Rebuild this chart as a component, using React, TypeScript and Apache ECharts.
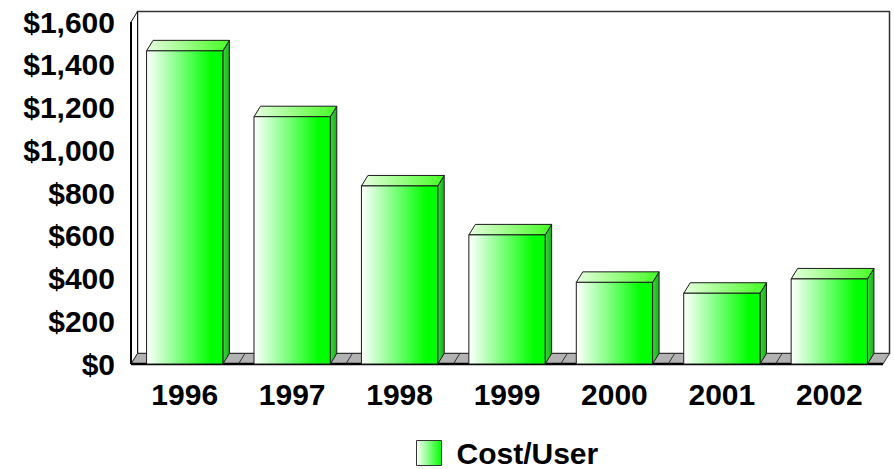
import React, { useEffect, useRef } from 'react';
import * as echarts from 'echarts';

const categories = ['1996', '1997', '1998', '1999', '2000', '2001', '2002'];
const costPerUser = [1465, 1157, 833, 604, 382, 331, 398];
const seriesName = 'Cost/User';
const yMin = 0;
const yMax = 1600;
const yStep = 200;

const DX = 6.5;
const DY = -10.5;
const FONT = "'Liberation Sans', Arial, Helvetica, sans-serif";

const lin = (stops: [number, string][]) => ({
  type: 'linear', x: 0, y: 0, x2: 1, y2: 0,
  colorStops: stops.map(([offset, color]) => ({ offset, color })),
});

export default function App() {
  const ref = useRef<HTMLDivElement>(null);
  useEffect(() => {
    const chart = echarts.init(ref.current!, null, { renderer: 'svg' });
    const frontGrad = lin([[0, '#ffffff'], [0.85, '#00ff00'], [1, '#00ff00']]);
    const topGrad = lin([[0, '#e8ffe0'], [1, '#44ff22']]);
    const sideGrad = lin([[0, '#33dd33'], [1, '#22aa22']]);
    const legendGrad = lin([[0, '#ffffff'], [1, '#00ff00']]);

    chart.setOption({
      animation: false,
      grid: { left: 131, right: 11, top: 22, bottom: 105, containLabel: false },
      xAxis: {
        type: 'category',
        data: categories,
        axisLine: { show: false },
        axisTick: { show: false },
        splitLine: { show: false },
        axisLabel: {
          fontSize: 30, fontWeight: 'bold', fontFamily: FONT, color: '#000', margin: 15,
        },
      },
      yAxis: {
        type: 'value',
        min: yMin, max: yMax, interval: yStep,
        axisLine: { show: false },
        axisTick: { show: false },
        splitLine: { show: false },
        axisLabel: {
          fontSize: 30, fontWeight: 'bold', fontFamily: FONT, color: '#000', margin: 16,
          formatter: (v: number) => '$' + v.toLocaleString('en-US'),
        },
      },
      legend: {
        data: [{ name: seriesName, icon: 'rect', itemStyle: { color: legendGrad, borderColor: '#333', borderWidth: 1 } }],
        left: 416, top: 438, padding: 0,
        itemWidth: 25, itemHeight: 25,
        textStyle: { fontSize: 30, lineHeight: 26, fontWeight: 'bold', fontFamily: FONT, color: '#000', padding: [0, 0, 0, 10] },
      },
      series: [
        {
          name: 'walls',
          type: 'custom',
          z: 1,
          silent: true,
          data: [[0, 0]],
          encode: { x: 0, y: 1 },
          renderItem: (params: any, api: any) => {
            const cw = api.size([1, 0])[0];
            const p0 = api.coord([0, yMin]);
            const pTop = api.coord([0, yMax]);
            const L = p0[0] - cw / 2;
            const R = L + cw * categories.length;
            const B = p0[1];
            const T = pTop[1];
            const children: any[] = [
              { type: 'rect', shape: { x: L + DX, y: T + DY, width: R - L, height: B - T }, style: { fill: '#fff', stroke: '#333', lineWidth: 1.5 } },
              { type: 'polygon', shape: { points: [[L, T], [L + DX, T + DY], [L + DX, B + DY], [L, B]] }, style: { fill: '#fff', stroke: '#111', lineWidth: 1 } },
              { type: 'polygon', shape: { points: [[L, B], [R, B], [R + DX, B + DY], [L + DX, B + DY]] }, style: { fill: '#b2b2b2', stroke: '#333', lineWidth: 1 } },
            ];
            for (let i = 1; i < categories.length; i++) {
              const x = L + cw * i;
              children.push({ type: 'line', shape: { x1: x, y1: B, x2: x + DX, y2: B + DY }, style: { stroke: '#333', lineWidth: 1 } });
            }
            children.push({ type: 'line', shape: { x1: L, y1: B, x2: R, y2: B }, style: { stroke: '#000', lineWidth: 2.5 } });
            children.push({ type: 'line', shape: { x1: L, y1: T, x2: L, y2: B }, style: { stroke: '#000', lineWidth: 2 } });
            return { type: 'group', children };
          },
        },
        {
          name: seriesName,
          type: 'custom',
          z: 5,
          itemStyle: { color: legendGrad },
          data: costPerUser.map((v, i) => [i, v]),
          encode: { x: 0, y: 1 },
          renderItem: (params: any, api: any) => {
            const idx = api.value(0);
            const v = api.value(1);
            const top = api.coord([idx, v]);
            const base = api.coord([idx, 0]);
            const cw = api.size([1, 0])[0];
            const bw = cw * 0.71;
            const x0 = top[0] - bw / 2;
            const x1 = x0 + bw;
            const yT = top[1];
            const yB = base[1];
            return {
              type: 'group',
              children: [
                { type: 'polygon', shape: { points: [[x1, yT], [x1 + DX, yT + DY], [x1 + DX, yB + DY], [x1, yB]] }, style: { fill: sideGrad, stroke: '#1a1a1a', lineWidth: 1 } },
                { type: 'polygon', shape: { points: [[x0, yT], [x1, yT], [x1 + DX, yT + DY], [x0 + DX, yT + DY]] }, style: { fill: topGrad, stroke: '#1a1a1a', lineWidth: 1 } },
                { type: 'rect', shape: { x: x0, y: yT, width: bw, height: yB - yT }, style: { fill: frontGrad, stroke: '#1a1a1a', lineWidth: 1 } },
              ],
            };
          },
        },
      ],
    });
    return () => chart.dispose();
  }, []);
  return <div ref={ref} style={{ position: 'absolute', left: 0, top: 0, width: 894, height: 469 }} />;
}
